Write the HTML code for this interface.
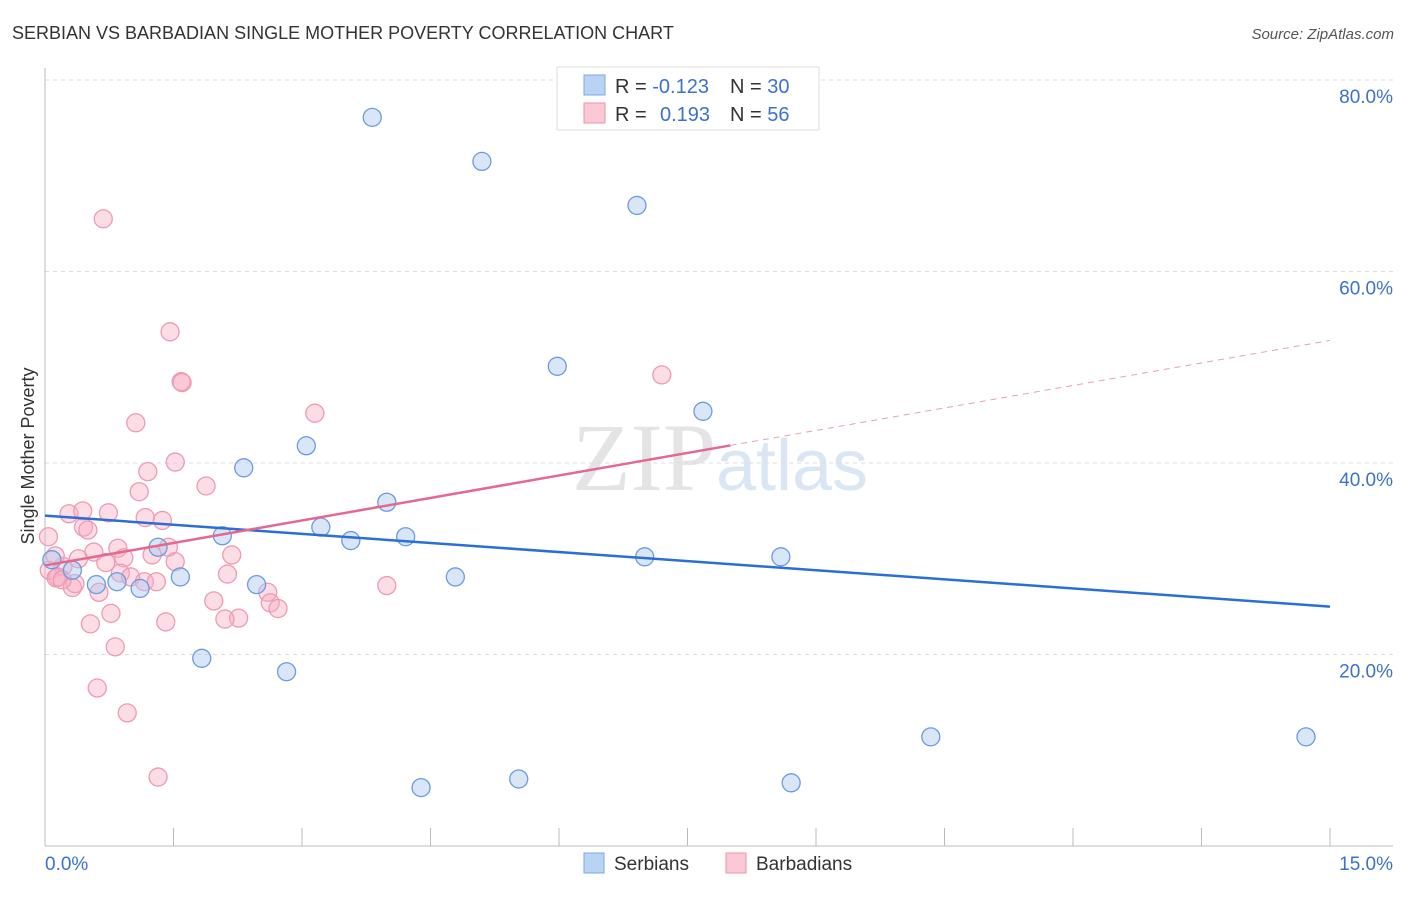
<!DOCTYPE html>
<html><head><meta charset="utf-8"><style>
body{margin:0;background:#fff;font-family:"Liberation Sans",sans-serif;}
</style></head><body>
<svg id="chart" width="1406" height="892" xmlns="http://www.w3.org/2000/svg" font-family="Liberation Sans, sans-serif">
<text x="12" y="39" font-size="18" fill="#333">SERBIAN VS BARBADIAN SINGLE MOTHER POVERTY CORRELATION CHART</text>
<text x="1394" y="39" font-size="15" fill="#555" text-anchor="end" font-style="italic">Source: ZipAtlas.com</text>
<text x="720" y="490" font-size="96" text-anchor="middle" fill="#e4e4e4" font-family="Liberation Serif, serif">ZIP<tspan fill="#dbe6f5" font-family="Liberation Sans, sans-serif" font-size="72">atlas</tspan></text>
<text transform="translate(34,456) rotate(-90)" font-size="18" fill="#333" text-anchor="middle">Single Mother Poverty</text>
<g id="grid"></g><g id="axes"></g><g id="pts"></g><g id="lines"></g>
<g>
<rect x="557" y="67" width="262" height="63" fill="#fff" stroke="#ddd"/>
<rect x="584" y="75" width="21" height="20" fill="#b9d3f5" stroke="#7aa8e6"/>
<rect x="584" y="103" width="21" height="20" fill="#fbc8d6" stroke="#ee92ab"/>
<text x="615" y="93" font-size="20" fill="#333">R = <tspan fill="#3a72cc">-0.123</tspan><tspan x="730">N = </tspan><tspan fill="#3a72cc">30</tspan></text>
<text x="615" y="121" font-size="20" fill="#333">R = <tspan x="660" fill="#3a72cc">0.193</tspan><tspan x="730">N = </tspan><tspan fill="#3a72cc">56</tspan></text>
</g>
<g>
<rect x="584" y="853" width="20" height="20" fill="#b9d3f5" stroke="#7aa8e6"/>
<text x="614" y="870" font-size="19" fill="#333">Serbians</text>
<rect x="726" y="853" width="20" height="20" fill="#fbc8d6" stroke="#ee92ab"/>
<text x="756" y="870" font-size="19" fill="#333">Barbadians</text>
</g>
</svg>
<script>
const serbX=[3.82,5.10,6.91,5.98,7.68,3.05,2.32,3.99,3.22,2.07,3.57,4.21,1.32,7.00,8.59,0.32,0.08,0.60,0.84,1.11,1.58,2.47,4.79,1.83,2.82,10.34,14.72,4.39,5.53,8.71];
const serbY=[76.1,71.5,66.9,50.1,45.4,41.8,39.5,35.9,33.3,32.4,31.9,32.3,31.2,30.2,30.2,28.8,29.9,27.3,27.6,26.9,28.1,27.3,28.1,19.6,18.2,11.4,11.4,6.1,7.0,6.6];
const barbX=[0.68,1.46,1.59,1.60,7.20,3.15,1.06,1.52,1.20,1.88,1.10,0.28,0.44,0.74,1.17,1.37,0.45,0.50,0.04,1.44,0.85,0.57,1.25,2.18,0.92,0.39,0.71,1.52,0.21,0.05,0.88,1.00,0.15,2.13,1.16,1.30,0.32,0.13,0.35,0.63,2.60,3.99,1.97,2.63,2.72,0.77,2.26,2.10,1.41,0.53,0.82,0.61,0.96,1.32,0.12,0.20];
const barbY=[65.5,53.7,48.5,48.4,49.2,45.2,44.2,40.1,39.1,37.6,37.0,34.7,35.0,34.8,34.3,34.0,33.3,33.0,32.3,31.2,31.1,30.7,30.4,30.4,30.1,30.0,29.6,29.7,29.2,28.8,28.5,28.1,28.1,28.4,27.6,27.6,27.0,28.0,27.4,26.5,26.5,27.2,25.6,25.4,24.8,24.3,23.8,23.7,23.4,23.2,20.8,16.5,13.9,7.2,30.3,27.8];
const serbTrend=[34.5,25.0];
const barbTrend=[29.3,52.8];
const barbSolidEnd=8.0;
const yTicks=[20,40,60,80];
const yTickLabels=["20.0%","40.0%","60.0%","80.0%"];
const xTicks=[0,1.5,3,4.5,6,7.5,9,10.5,12,13.5,15];
const NS="http://www.w3.org/2000/svg";
const X=v=>45+v/15*1285, Y=v=>846-v*9.575;
function mk(p,t,a){const e=document.createElementNS(NS,t);for(const k in a)e.setAttribute(k,a[k]);document.getElementById(p).appendChild(e);return e;}
yTicks.forEach((t,i)=>{
 const l=mk('grid','line',{x1:45,x2:1393,y1:Y(t),y2:Y(t),stroke:'#ddd','stroke-dasharray':'4,4'});
 
 
 const tx=mk('grid','text',{x:1393,y:Y(t)+23,'font-size':19,fill:'#3a72cc','text-anchor':'end'});
 tx.textContent=yTickLabels[i];
 
 
});
const ya=mk('axes','line',{x1:45,x2:45,y1:68,y2:846,stroke:'#bbb'});


const xa=mk('axes','line',{x1:45,x2:1393,y1:846,y2:846,stroke:'#bbb'});


xTicks.forEach(t=>{const l=mk('axes','line',{x1:X(t),x2:X(t),y1:828,y2:846,stroke:'#bbb'});
 
 });
const xl0=mk('axes','text',{x:45,y:870,'font-size':19,fill:'#3a72cc'});xl0.textContent='0.0%';


const xl1=mk('axes','text',{x:1393,y:870,'font-size':19,fill:'#3a72cc','text-anchor':'end'});xl1.textContent='15.0%';


barbX.forEach((x,i)=>{const c=mk('pts','circle',{cx:X(x),cy:Y(barbY[i]),r:9,fill:'rgba(248,170,192,0.4)',stroke:'#ee9ab2','stroke-width':1.3});
 
 });
serbX.forEach((x,i)=>{const c=mk('pts','circle',{cx:X(x),cy:Y(serbY[i]),r:9,fill:'rgba(170,200,240,0.45)',stroke:'#6a9be0','stroke-width':1.3});
 
 });
const by=v=>barbTrend[0]+(barbTrend[1]-barbTrend[0])*v/15;
const s=mk('lines','line',{x1:X(0),y1:Y(serbTrend[0]),x2:X(15),y2:Y(serbTrend[1]),stroke:'#2a6ed6','stroke-width':2.5});


const b=mk('lines','line',{x1:X(0),y1:Y(by(0)),x2:X(barbSolidEnd),y2:Y(by(barbSolidEnd)),stroke:'#e46890','stroke-width':2.5});


const bd=mk('lines','line',{x1:X(barbSolidEnd),y1:Y(by(barbSolidEnd)),x2:X(15),y2:Y(by(15)),stroke:'#e8a0b6','stroke-width':1,'stroke-dasharray':'6,5'});


</script>
</body></html>
